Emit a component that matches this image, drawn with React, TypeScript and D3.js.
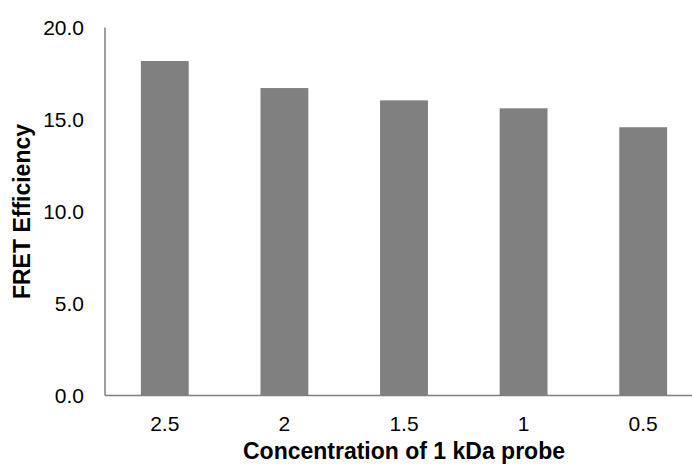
import React from "react";
import * as d3 from "d3";

// Probe concentrations (x categories) and measured FRET efficiencies (%)
const concentrations = ["2.5", "2", "1.5", "1", "0.5"];
const efficiency = [18.18, 16.71, 16.04, 15.61, 14.58];
const yTicks = [0, 5, 10, 15, 20];

const xTitle = "Concentration of 1 kDa probe";
const yTitle = "FRET Efficiency";

const W = 692;
const H = 465;
const FONT = "'Liberation Sans', Arial, sans-serif";

export default function App() {
  const x = d3
    .scaleBand<string>()
    .domain(concentrations)
    .range([105, 703])
    .paddingInner(0.6)
    .paddingOuter(0.3);

  const y = d3.scaleLinear().domain([0, 20]).range([395.5, 27.5]);
  const fmt = d3.format(".1f");

  return (
    <svg
      width={W}
      height={H}
      style={{ position: "absolute", left: 0, top: 0, background: "#fff" }}
      fontFamily={FONT}
    >
      <rect width={W} height={H} fill="#fff" />

      {/* bars */}
      {concentrations.map((c, i) => (
        <rect
          key={c}
          x={x(c)}
          y={y(efficiency[i])}
          width={x.bandwidth()}
          height={y(0) - y(efficiency[i])}
          fill="#808080"
        />
      ))}

      {/* axes */}
      <line x1={105} x2={105} y1={y(20)} y2={y(0)} stroke="#7f7f7f" strokeWidth={1.5} />
      <line x1={105} x2={W} y1={y(0)} y2={y(0)} stroke="#7f7f7f" strokeWidth={1.5} />

      {/* y tick labels */}
      {yTicks.map((t) => (
        <text key={t} x={84} y={y(t) + 7.5} textAnchor="end" fontSize={21} fill="#000">
          {fmt(t)}
        </text>
      ))}

      {/* x tick labels */}
      {concentrations.map((c) => (
        <text
          key={c}
          x={(x(c) as number) + x.bandwidth() / 2}
          y={431}
          textAnchor="middle"
          fontSize={21}
          fill="#000"
        >
          {c}
        </text>
      ))}

      {/* axis titles */}
      <text x={404} y={459} textAnchor="middle" fontSize={23} fontWeight="bold" fill="#000">
        {xTitle}
      </text>
      <text
        transform={`translate(30, ${(y(0) + y(20)) / 2}) rotate(-90)`}
        textAnchor="middle"
        fontSize={23}
        fontWeight="bold"
        fill="#000"
      >
        {yTitle}
      </text>
    </svg>
  );
}
